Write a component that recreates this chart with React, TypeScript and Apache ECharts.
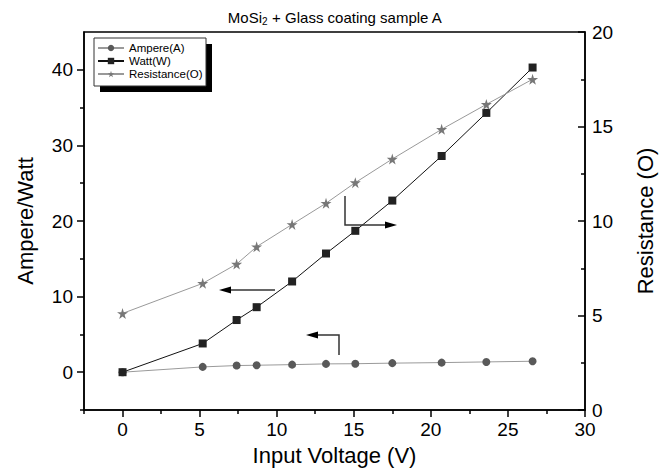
import React, { useEffect, useRef } from "react";
import * as echarts from "echarts";

const voltage = [0, 5.2, 7.4, 8.7, 11.0, 13.2, 15.1, 17.5, 20.7, 23.6, 26.6];
const ampere = [0, 0.7, 0.88, 0.92, 1.0, 1.1, 1.12, 1.2, 1.27, 1.36, 1.45];
const watt = [0, 3.8, 6.9, 8.6, 12.0, 15.7, 18.7, 22.7, 28.6, 34.3, 40.3];
const resistance = [5.11, 6.7, 7.72, 8.64, 9.82, 10.94, 12.03, 13.28, 14.85, 16.17, 17.5];

const xMajorTicks = [0, 5, 10, 15, 20, 25, 30];
const xMinorTicks = [-2.5, 2.5, 7.5, 12.5, 17.5, 22.5, 27.5];
const yLeftMajorTicks = [0, 10, 20, 30, 40];
const yLeftMinorTicks = [-5, 5, 15, 25, 35];

const FONT = "Liberation Sans, Arial, sans-serif";
const STAR = "path://M50,0 L61,35 L98,35 L68,57 L79,91 L50,70 L21,91 L32,57 L2,35 L39,35 Z";

const pairs = (ys: number[]) => voltage.map((v, i) => [v, ys[i]]);

export default function App() {
  const ref = useRef<HTMLDivElement>(null);
  useEffect(() => {
    if (!ref.current) return;
    const chart = echarts.init(ref.current, null, { renderer: "svg" });
    const axisLine = { show: true, onZero: false, lineStyle: { color: "#000", width: 1.5 } };
    const labelStyle = { color: "#000", fontSize: 19, fontFamily: FONT };
    const nameStyle = { color: "#000", fontSize: 22, fontFamily: FONT };
    chart.setOption({
      animation: false,
      backgroundColor: "#fff",
      title: {
        text: "{a|MoSi}{s|2}{a| + Glass coating sample A}",
        left: "center",
        top: 2,
        textStyle: {
          fontWeight: "normal",
          rich: {
            a: { fontSize: 15, fontWeight: "normal", fontFamily: FONT, color: "#000", lineHeight: 20 },
            s: { fontSize: 10, fontWeight: "normal", fontFamily: FONT, color: "#000", lineHeight: 20, padding: [8, 0, 0, 0] },
          },
        },
      },
      grid: {
        left: 84,
        right: 85,
        top: 32,
        bottom: 60,
        outerBoundsMode: "none",
        containLabel: false,
        show: true,
        borderColor: "#000",
        borderWidth: 1.5,
        backgroundColor: "transparent",
      },
      legend: {
        orient: "vertical",
        left: 97,
        top: 42,
        itemGap: 1,
        itemWidth: 26,
        itemHeight: 8,
        padding: 0,
        textStyle: { fontSize: 11.5, fontFamily: FONT, color: "#000" },
        z: 10,
        data: ["Ampere(A)", "Watt(W)", "Resistance(O)"],
      },
      graphic: [
        { type: "rect", z: 5, shape: { x: 100, y: 44, width: 112, height: 48 }, style: { fill: "#000" } },
        { type: "rect", z: 6, shape: { x: 94, y: 38, width: 112, height: 48 }, style: { fill: "#fff", stroke: "#333", lineWidth: 1 } },
        { type: "polyline", z: 20, shape: { points: [[345, 196], [345, 225], [388, 225]] }, style: { stroke: "#333", lineWidth: 1.5, fill: null } },
        { type: "polygon", z: 20, shape: { points: [[397, 225], [385, 221.5], [385, 228.5]] }, style: { fill: "#000" } },
        { type: "line", z: 20, shape: { x1: 275, y1: 290, x2: 228, y2: 290 }, style: { stroke: "#333", lineWidth: 1.5 } },
        { type: "polygon", z: 20, shape: { points: [[219, 290], [231, 286.5], [231, 293.5]] }, style: { fill: "#000" } },
        { type: "polyline", z: 20, shape: { points: [[339, 355], [339, 335], [315, 335]] }, style: { stroke: "#333", lineWidth: 1.5, fill: null } },
        { type: "polygon", z: 20, shape: { points: [[306, 335], [318, 331.5], [318, 338.5]] }, style: { fill: "#000" } },
      ],
      xAxis: [
        {
          type: "value",
          min: -2.5,
          max: 30,
          position: "bottom",
          name: "Input Voltage (V)",
          nameLocation: "middle",
          nameGap: 34,
          nameTextStyle: nameStyle,
          axisLine,
          axisTick: { show: true, customValues: xMajorTicks, length: 7, lineStyle: { color: "#000", width: 1.5 } },
          axisLabel: { ...labelStyle, customValues: xMajorTicks, margin: 10 },
          splitLine: { show: false },
        },
        {
          type: "value",
          min: -2.5,
          max: 30,
          position: "bottom",
          axisLine: { show: false, onZero: false },
          axisTick: { show: true, customValues: xMinorTicks, length: 4, lineStyle: { color: "#000", width: 1.5 } },
          axisLabel: { show: false },
          splitLine: { show: false },
        },
      ],
      yAxis: [
        {
          type: "value",
          min: -5,
          max: 45,
          position: "left",
          name: "Ampere/Watt",
          nameLocation: "middle",
          nameGap: 48,
          nameTextStyle: nameStyle,
          axisLine,
          axisTick: { show: true, customValues: yLeftMajorTicks, length: 7, lineStyle: { color: "#000", width: 1.5 } },
          axisLabel: { ...labelStyle, customValues: yLeftMajorTicks, margin: 11 },
          splitLine: { show: false },
        },
        {
          type: "value",
          min: -5,
          max: 45,
          position: "left",
          axisLine: { show: false, onZero: false },
          axisTick: { show: true, customValues: yLeftMinorTicks, length: 4, lineStyle: { color: "#000", width: 1.5 } },
          axisLabel: { show: false },
          splitLine: { show: false },
        },
        {
          type: "value",
          min: 0,
          max: 20,
          interval: 5,
          position: "right",
          name: "Resistance (O)",
          nameLocation: "middle",
          nameGap: 49,
          nameTextStyle: nameStyle,
          axisLine,
          axisTick: { show: true, inside: true, length: 7, lineStyle: { color: "#000", width: 1.5 } },
          minorTick: { show: true, splitNumber: 2, length: 4, lineStyle: { color: "#000", width: 1.5 } },
          axisLabel: { ...labelStyle, margin: 7 },
          splitLine: { show: false },
          minorSplitLine: { show: false },
        },
      ],
      series: [
        {
          name: "Ampere(A)",
          type: "line",
          data: pairs(ampere),
          yAxisIndex: 0,
          symbol: "circle",
          symbolSize: 8,
          itemStyle: { color: "#595959" },
          lineStyle: { color: "#9a9a9a", width: 1 },
        },
        {
          name: "Watt(W)",
          type: "line",
          data: pairs(watt),
          yAxisIndex: 0,
          symbol: "rect",
          symbolSize: 8,
          itemStyle: { color: "#222" },
          lineStyle: { color: "#111", width: 1 },
        },
        {
          name: "Resistance(O)",
          type: "line",
          data: pairs(resistance),
          yAxisIndex: 2,
          symbol: STAR,
          symbolSize: 11,
          itemStyle: { color: "#777" },
          lineStyle: { color: "#999", width: 1 },
        },
      ],
    });
    return () => chart.dispose();
  }, []);
  return (
    <div
      ref={ref}
      style={{ position: "absolute", left: 0, top: 0, width: 670, height: 470 }}
    />
  );
}
